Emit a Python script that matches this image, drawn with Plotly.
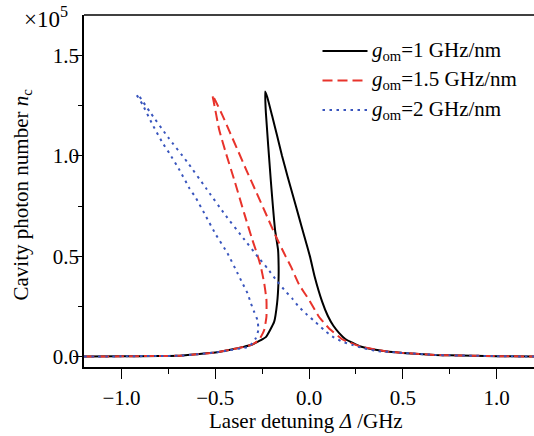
import plotly.graph_objects as go

# ---- data (detuning in GHz, photon number in units of 1e5) ----
black_x = [-1.2, -1.0, -0.8, -0.69, -0.6, -0.5, -0.426, -0.35, -0.303, -0.26, -0.229,
           -0.186, -0.170, -0.163, -0.162, -0.165, -0.181, -0.204, -0.230, -0.234,
           -0.222, -0.197, -0.170, -0.144, -0.115, -0.085, -0.055, -0.025, 0.005, 0.030, 0.070,
           0.100, 0.130, 0.160, 0.195, 0.229, 0.275, 0.372, 0.426, 0.5, 0.674, 0.75, 1.0, 1.2]
black_y = [0.002, 0.003, 0.005, 0.006, 0.013, 0.022, 0.035, 0.050, 0.062, 0.082, 0.10,
           0.174, 0.269, 0.368, 0.45, 0.532, 0.632, 0.881, 1.214, 1.32,
           1.29, 1.20, 1.10, 1.00, 0.90, 0.80, 0.70, 0.60, 0.50, 0.40, 0.275,
           0.205, 0.155, 0.120, 0.088, 0.072, 0.052, 0.033, 0.026, 0.020, 0.010, 0.008, 0.004, 0.002]

red_x = [-1.2, -1.0, -0.8, -0.69, -0.6, -0.5, -0.426, -0.35, -0.303, -0.266, -0.239, -0.227,
         -0.227, -0.239, -0.257, -0.275, -0.302, -0.346, -0.399, -0.443, -0.479, -0.514, -0.518,
         -0.505, -0.461, -0.426, -0.381, -0.330, -0.284, -0.230, -0.177, -0.124, -0.097, -0.053,
         0.0, 0.053, 0.106, 0.177, 0.275, 0.372, 0.426, 0.5, 0.674, 0.75, 1.0, 1.2]
red_y = [0.002, 0.003, 0.005, 0.006, 0.013, 0.022, 0.035, 0.050, 0.062, 0.085, 0.134, 0.200,
         0.284, 0.367, 0.449, 0.507, 0.582, 0.715, 0.881, 1.013, 1.129, 1.295, 1.303,
         1.285, 1.200, 1.125, 1.030, 0.920, 0.825, 0.712, 0.600, 0.499, 0.450, 0.360,
         0.284, 0.200, 0.143, 0.088, 0.051, 0.034, 0.026, 0.020, 0.010, 0.008, 0.004, 0.002]

blue_x = [-1.2, -1.0, -0.8, -0.69, -0.6, -0.5, -0.426, -0.35, -0.319, -0.284, -0.270, -0.275,
          -0.293, -0.310, -0.328, -0.355, -0.381, -0.435, -0.496, -0.549, -0.603, -0.638, -0.691,
          -0.745, -0.780, -0.834, -0.887, -0.919,
          -0.905, -0.85, -0.75, -0.65, -0.55, -0.45, -0.35, -0.275, -0.222, -0.169, -0.124,
          -0.089, -0.053, -0.009, 0.036, 0.080, 0.124, 0.177, 0.230, 0.284, 0.372, 0.426,
          0.5, 0.674, 0.75, 1.0, 1.2]
blue_y = [0.002, 0.003, 0.005, 0.006, 0.013, 0.022, 0.033, 0.045, 0.051, 0.093, 0.134, 0.184,
          0.225, 0.267, 0.317, 0.367, 0.416, 0.516, 0.607, 0.698, 0.790, 0.839, 0.930,
          1.013, 1.063, 1.154, 1.254, 1.303,
          1.295, 1.22, 1.09, 0.97, 0.84, 0.71, 0.59, 0.50, 0.441, 0.375, 0.325,
          0.290, 0.248, 0.209, 0.172, 0.134, 0.102, 0.076, 0.060, 0.045, 0.028, 0.025,
          0.020, 0.010, 0.008, 0.004, 0.002]

series_names = ["<i>g</i><sub>om</sub>=1 GHz/nm",
                "<i>g</i><sub>om</sub>=1.5 GHz/nm",
                "<i>g</i><sub>om</sub>=2 GHz/nm"]
colors = ["#000000", "#e8332b", "#3955bd"]
dashes = ["solid", "10px,5px", "2.5px,4.5px"]

x_ticks = [-1.0, -0.5, 0.0, 0.5, 1.0]
x_ticklabels = ["\u22121.0", "\u22120.5", "0.0", "0.5", "1.0"]
y_ticks = [0.0, 0.5, 1.0, 1.5]
y_ticklabels = ["0.0", "0.5", "1.0", "1.5"]

FONT = "Times New Roman, Liberation Serif, Tinos, serif"
FS = 21

W, H = 534, 436
L, R, T, B = 84, 0, 15, 69
PW, PH = W - L - R, H - T - B


def px_x(p):
    return (p - L) / PW


def px_y(p):
    return 1 - (p - T) / PH


fig = go.Figure()
for xs, ys, name, c, d in zip([black_x, red_x, blue_x], [black_y, red_y, blue_y],
                              series_names, colors, dashes):
    fig.add_trace(go.Scatter(x=xs, y=ys, mode="lines", name=name,
                             line=dict(color=c, width=2, dash=d, shape="spline", smoothing=0.4),
                             showlegend=False))

# custom legend
leg_y = [51.0, 80.5, 110.0]
for i, (name, c, d) in enumerate(zip(series_names, colors, dashes)):
    yp = px_y(leg_y[i])
    fig.add_shape(type="line", xref="paper", yref="paper", x0=px_x(322.5), x1=px_x(367.5),
                  y0=yp, y1=yp, line=dict(color=c, width=2, dash=d))
    fig.add_annotation(xref="paper", yref="paper", x=px_x(370), y=yp,
                       xanchor="left", yanchor="middle", text=name, showarrow=False,
                       font=dict(family=FONT, size=FS, color="#000"))

# top frame line
fig.add_shape(type="line", xref="paper", yref="paper", x0=0, x1=1, y0=1, y1=1,
              line=dict(color="#000", width=1.5))

# exponent label
fig.add_annotation(xref="paper", yref="paper", x=px_x(22), y=px_y(1),
                   xanchor="left", yanchor="top", showarrow=False,
                   text="\u00d710<sup>5</sup>", font=dict(family=FONT, size=23, color="#000"))

# axis titles
fig.add_annotation(xref="paper", yref="paper", x=px_x(306), y=px_y(421),
                   xanchor="center", yanchor="middle", showarrow=False,
                   text="Laser detuning <i>\u0394</i> /GHz", font=dict(family=FONT, size=FS, color="#000"))
fig.add_annotation(xref="paper", yref="paper", x=px_x(21.5), y=px_y(195),
                   xanchor="center", yanchor="middle", showarrow=False, textangle=-90,
                   text="Cavity photon number <i>n</i><sub>c</sub>", font=dict(family=FONT, size=FS, color="#000"))

fig.update_layout(
    width=W, height=H,
    margin=dict(l=L, r=R, t=T, b=B, autoexpand=False),
    plot_bgcolor="white", paper_bgcolor="white",
    font=dict(family=FONT, size=FS, color="#000"),
    xaxis=dict(range=[-1.2, 1.2], tickvals=x_ticks, ticktext=x_ticklabels, automargin=False,
               ticks="outside", ticklen=10, tickwidth=1.2, tickcolor="#000", ticklabelstandoff=1,
               showline=True, linecolor="#000", linewidth=1.5, showgrid=False, zeroline=False,
               minor=dict(dtick=0.25, tick0=0, ticks="outside", ticklen=5, tickwidth=1.2, tickcolor="#000"),
               tickfont=dict(family=FONT, size=FS, color="#000")),
    yaxis=dict(range=[-0.05, 1.7], tickvals=y_ticks, ticktext=y_ticklabels, automargin=False,
               ticks="outside", ticklen=9, tickwidth=1.2, tickcolor="#000", ticklabelstandoff=-10,
               showline=True, linecolor="#000", linewidth=1.5, showgrid=False, zeroline=False,
               minor=dict(dtick=0.25, tick0=0, ticks="outside", ticklen=4, tickwidth=1.2, tickcolor="#000"),
               tickfont=dict(family=FONT, size=FS, color="#000")),
)

fig.write_html("out.html", config={"displayModeBar": False},
               post_script="document.body.style.margin='0';")
